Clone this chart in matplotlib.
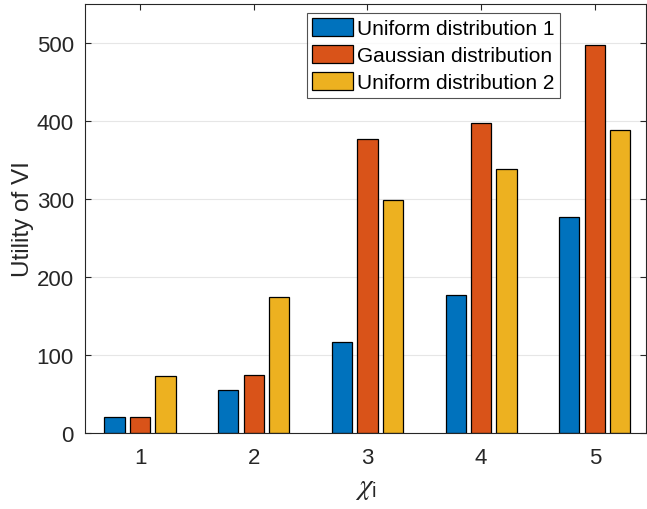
import matplotlib.pyplot as plt
import numpy as np

plt.rcParams['font.family'] = ['Liberation Sans', 'DejaVu Sans']
plt.rcParams['mathtext.fontset'] = 'custom'
plt.rcParams['mathtext.rm'] = 'Liberation Sans'
plt.rcParams['mathtext.it'] = 'STIXGeneral:italic'

groups = [1, 2, 3, 4, 5]
uniform1 = [20, 55, 117, 177, 277]
gaussian = [20, 75, 377, 397, 497]
uniform2 = [73, 175, 299, 339, 389]
labels = ['Uniform distribution 1', 'Gaussian distribution', 'Uniform distribution 2']
colors = ['#0072BD', '#D95319', '#EDB120']

axis_col = '#262626'

fig = plt.figure(figsize=(6.47, 5.10), dpi=100)
ax = fig.add_axes([85 / 647, 1 - 434 / 510, 561 / 647, 429 / 510])

x = np.array(groups, dtype=float)
offset = 0.224
width = 0.178
for i, (vals, lab, col) in enumerate(zip([uniform1, gaussian, uniform2], labels, colors)):
    ax.bar(x + (i - 1) * offset, vals, width, color=col, edgecolor='black',
           linewidth=0.9, label=lab, zorder=2)

ax.set_xlim(0.516, 5.45)
ax.set_ylim(0, 550)
ax.set_xticks(groups)
ax.set_yticks([0, 100, 200, 300, 400, 500])
ax.yaxis.grid(True, color='#e6e6e6', linewidth=0.8, zorder=0)
ax.set_axisbelow(True)

ax.tick_params(direction='in', length=4, width=0.8, top=True, right=True,
               labelsize=16, colors=axis_col, pad=8)
ax.tick_params(axis='x', pad=10)
for sp in ax.spines.values():
    sp.set_color(axis_col)
    sp.set_linewidth(0.8)

ax.set_ylabel('Utility of VI', fontsize=17.5, color=axis_col, labelpad=2)
ax.set_xlabel(r'$\chi_{\mathrm{i}}$', fontsize=21, color=axis_col, labelpad=4)

leg = ax.legend(loc='upper left', bbox_to_anchor=(307 / 647, 1 - 14 / 510),
                bbox_transform=fig.transFigure, fontsize=15, frameon=True,
                fancybox=False, edgecolor=axis_col, borderpad=0.25,
                labelspacing=0.35, handlelength=1.95, handleheight=0.9,
                handletextpad=0.2, borderaxespad=0)
leg.get_frame().set_linewidth(0.8)

fig.savefig('out.png', dpi=100)
